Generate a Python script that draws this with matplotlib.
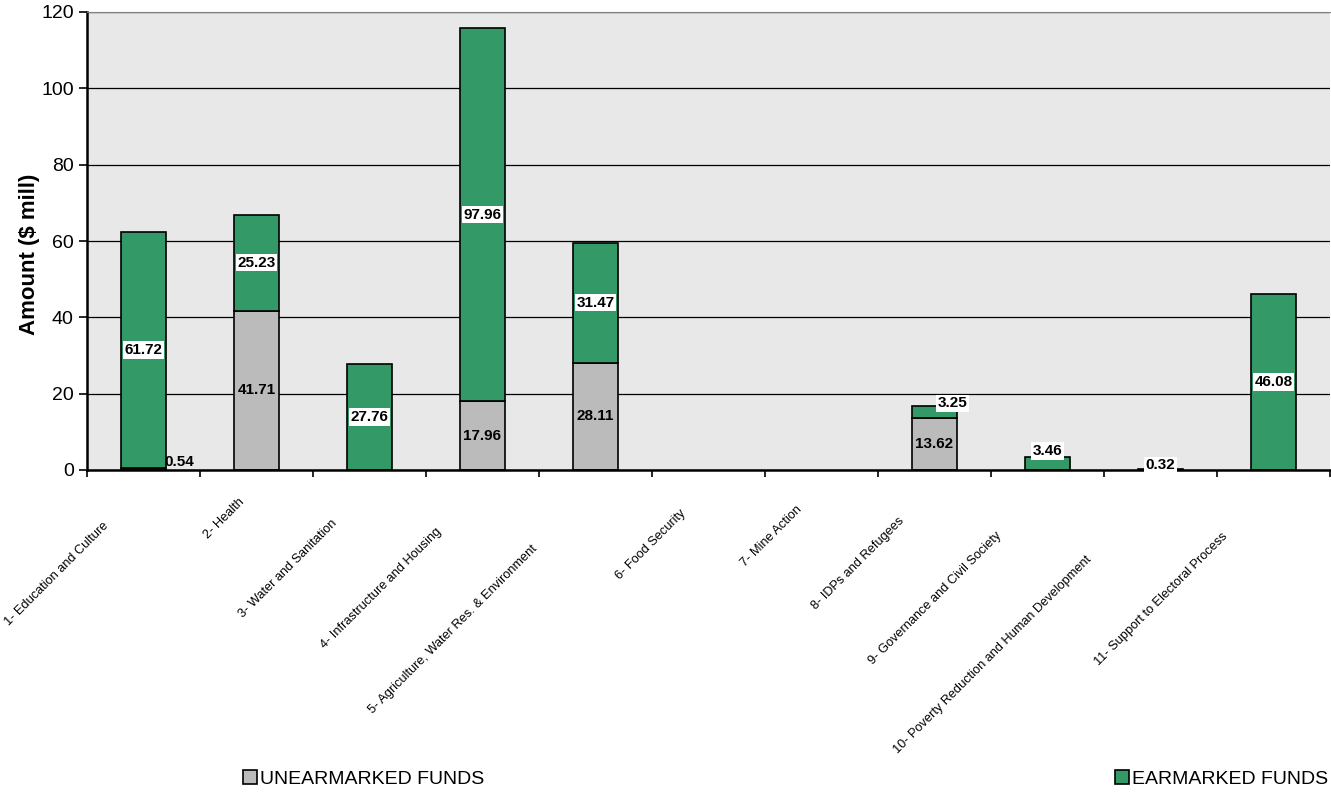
import matplotlib
matplotlib.use('Agg')
import matplotlib.pyplot as plt
from matplotlib import font_manager
from matplotlib.patches import Patch
from matplotlib.transforms import IdentityTransform

categories = ['1- Education and Culture', '2- Health', '3- Water and Sanitation',
              '4- Infrastructure and Housing', '5- Agriculture, Water Res. & Environment',
              '6- Food Security', '7- Mine Action', '8- IDPs and Refugees',
              '9- Governance and Civil Society', '10- Poverty Reduction and Human Development',
              '11- Support to Electoral Process']
unearmarked = [0.54, 41.71, 0, 17.96, 28.11, 0, 0, 13.62, 0, 0, 0]
earmarked = [61.72, 25.23, 27.76, 97.96, 31.47, 0, 0, 3.25, 3.46, 0.32, 46.08]

# label nudges (category units, value units) for the small segments
unear_nudge = {0: (0.32, 2.1)}
ear_nudge = {7: (0.16, 17.5), 8: (0.0, 5.0), 9: (0.0, 1.2)}

green = '#339966'
grey = '#BBBBBB'

names = {f.name for f in font_manager.fontManager.ttflist}
base_font = 'Liberation Sans' if 'Liberation Sans' in names else 'DejaVu Sans'
narrow_font = 'Liberation Sans Narrow' if 'Liberation Sans Narrow' in names else base_font
plt.rcParams['font.family'] = base_font

fig = plt.figure(figsize=(13.31, 7.94), dpi=100)
ax = fig.add_axes([87/1331, 1-470/794, (1330-87)/1331, (470-12)/794])
ax.set_facecolor('#E8E8E8')

x = list(range(len(categories)))
ax.set_xlim(-0.5, len(categories) - 0.5)
ax.set_ylim(0, 120)
ax.set_yticks(range(0, 121, 20))
ax.yaxis.grid(True, color='black', linewidth=0.9)
ax.set_axisbelow(True)

for i in x:
    u = unearmarked[i]
    e = earmarked[i]
    if u > 0:
        ax.bar(i, u, width=0.4, color=grey, edgecolor='black', linewidth=1.2, zorder=2)
        dx, yy = unear_nudge.get(i, (0, u / 2))
        ax.text(i + dx, yy, f'{u:.2f}', ha='center', va='center', fontsize=11,
                fontweight='bold', zorder=4)
    if e > 0:
        ax.bar(i, e, bottom=u, width=0.4, color=green, edgecolor='black', linewidth=1.2, zorder=2)
        dx, yy = ear_nudge.get(i, (0, u + e / 2))
        ax.text(i + dx, yy, f'{e:.2f}', ha='center', va='center', fontsize=11,
                fontweight='bold', zorder=4,
                bbox=dict(facecolor='white', edgecolor='none', pad=1.2))

ax.spines['top'].set_color('#808080')
ax.spines['right'].set_visible(False)
ax.spines['left'].set_linewidth(1.8)
ax.spines['bottom'].set_linewidth(1.8)
ax.tick_params(axis='y', labelsize=14, length=6, width=1.2, direction='out')
ax.set_xticks([i - 0.5 for i in range(len(categories) + 1)])
ax.set_xticklabels([])
ax.tick_params(axis='x', length=5, width=1.2, direction='out')
ax.set_ylabel('Amount ($ mill)', fontsize=16, fontweight='bold')
ax.yaxis.set_label_coords(-0.038, 0.47)

# category labels, rotated like the spreadsheet ones
labels = []
for i, name in enumerate(categories):
    t = fig.text(0, 0, name, fontsize=10, family=narrow_font, rotation=0,
                 ha='right', va='center', rotation_mode='anchor')
    labels.append(t)
fig.canvas.draw()
r = fig.canvas.get_renderer()
w0 = labels[0].get_window_extent(r).width
scale = 141.0 / w0
for t in labels:
    t.set_fontsize(10 * scale)
fig.canvas.draw()
axis_px = ax.transAxes.transform((0, 0))[1]
for i, t in enumerate(labels):
    w = t.get_window_extent(r).width
    cx = ax.transData.transform((i, 0))[0]
    t.set_transform(IdentityTransform())
    t.set_position((cx - 0.26 * w, axis_px - 17 - 0.26 * w))
    t.set_rotation(45)

fig.legend(handles=[Patch(facecolor=grey, edgecolor='black', linewidth=1.2)],
           labels=['UNEARMARKED FUNDS'], loc='center left',
           bbox_to_anchor=(243/1331, 1-779/794), frameon=False, fontsize=14,
           handlelength=0.7, handleheight=0.7, handletextpad=0.2, borderpad=0,
           borderaxespad=0)
fig.legend(handles=[Patch(facecolor=green, edgecolor='black', linewidth=1.2)],
           labels=['EARMARKED FUNDS'], loc='center left',
           bbox_to_anchor=(1115/1331, 1-779/794), frameon=False, fontsize=14,
           handlelength=0.7, handleheight=0.7, handletextpad=0.2, borderpad=0,
           borderaxespad=0)

fig.savefig('out.png', dpi=100)
